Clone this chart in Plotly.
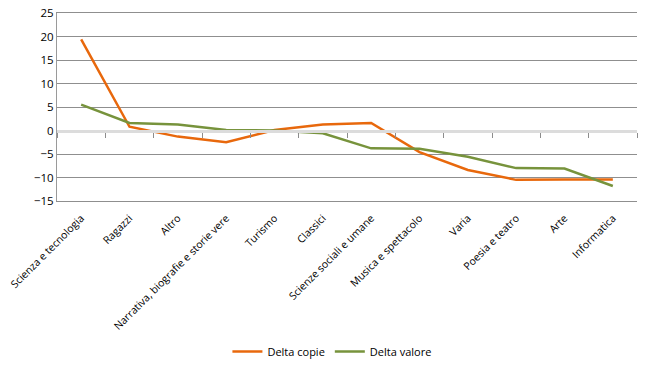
import plotly.graph_objects as go

categories = ["Scienza e tecnologia", "Ragazzi", "Altro", "Narrativa, biografie e storie vere",
              "Turismo", "Classici", "Scienze sociali e umane", "Musica e spettacolo",
              "Varia", "Poesia e teatro", "Arte", "Informatica"]
delta_copie = [19.4, 0.8, -1.3, -2.5, 0.1, 1.3, 1.6, -4.6, -8.4, -10.5, -10.4, -10.4]
delta_valore = [5.5, 1.6, 1.3, 0.1, 0.0, -0.6, -3.8, -3.9, -5.6, -8.0, -8.1, -11.8]
y_ticks = [25, 20, 15, 10, 5, 0, -5, -10, -15]

font_family = "Open Sans"
fig = go.Figure()
fig.add_trace(go.Scatter(x=categories, y=delta_copie, mode="lines", name="Delta copie",
                         line=dict(color="#E8680C", width=2.5)))
fig.add_trace(go.Scatter(x=categories, y=delta_valore, mode="lines", name="Delta valore",
                         line=dict(color="#77933C", width=2.5)))
# invisible trace to draw the zero axis with tick marks
fig.add_trace(go.Scatter(x=categories, y=[0]*len(categories), mode="lines", xaxis="x2",
                         line=dict(color="rgba(0,0,0,0)"), showlegend=False, hoverinfo="skip"))

fig.update_layout(
    width=650, height=371,
    margin=dict(l=57, r=13, t=13, b=170, autoexpand=False),
    paper_bgcolor="white", plot_bgcolor="white",
    font=dict(family=font_family, size=11, color="#000000"),
    xaxis=dict(type="category", range=[-0.5, 11.5], tickangle=-45, showgrid=False,
               showline=True, mirror=True, linecolor="#8f8f8f", linewidth=1,
               ticks="outside", ticklen=6, tickcolor="rgba(0,0,0,0)",
               tickfont=dict(size=10.5, color="#000000"), domain=[0, 1]),
    xaxis2=dict(type="category", matches="x", overlaying="x", anchor="free", position=0.375,
                showticklabels=False, showline=True, linecolor="#dcdcdc", linewidth=3,
                ticks="outside", tickson="boundaries", ticklen=5, tickcolor="#8c8c8c",
                showgrid=False),
    yaxis=dict(range=[-15, 25], tickvals=y_ticks, showgrid=True, gridcolor="#8f8f8f",
               gridwidth=1, zeroline=False, showline=True, linecolor="#9a9a9a",
               linewidth=1, ticks="", tickfont=dict(size=11.5, color="#000000"),
               domain=[0, 1]),
    legend=dict(orientation="h", x=0.474, xanchor="center", y=-0.723, yanchor="top",
                font=dict(size=11)),
)
fig.write_html("out.html", config={"displayModeBar": False},
               post_script="document.body.style.margin='0';document.body.style.overflow='hidden';")
